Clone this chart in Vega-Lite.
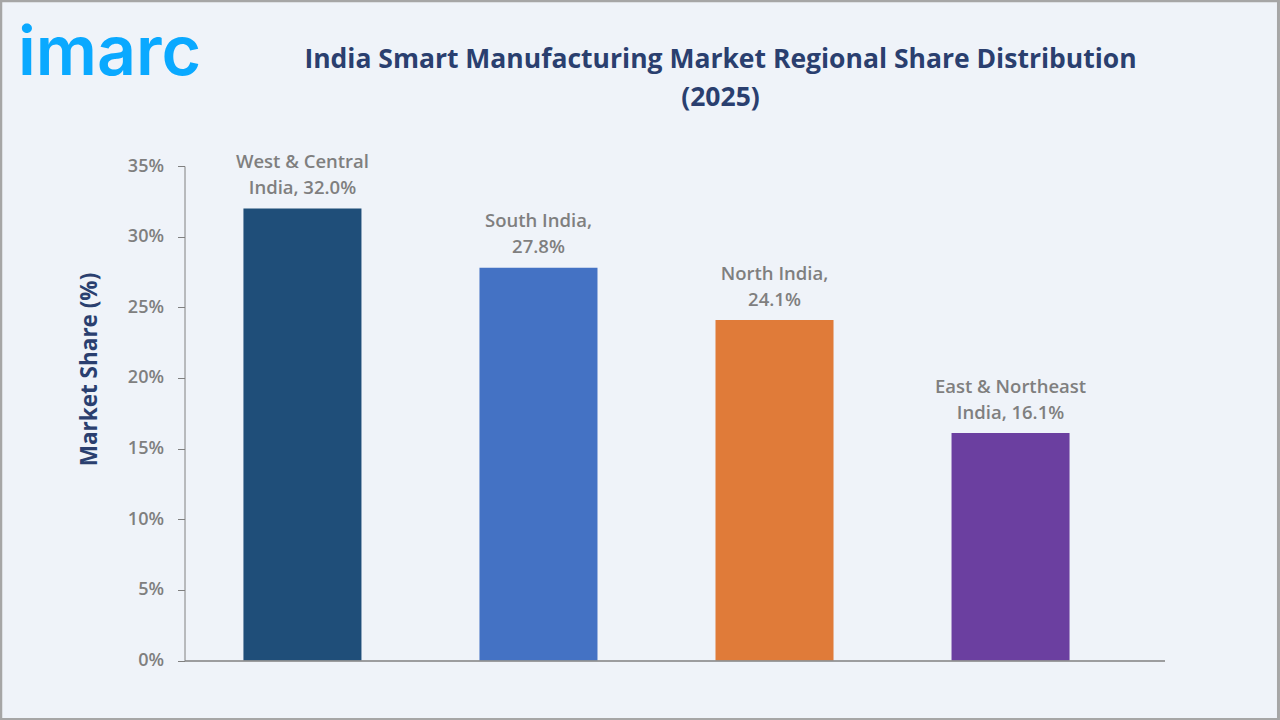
{
  "$schema": "https://vega.github.io/schema/vega-lite/v6.json",
  "description": "India Smart Manufacturing Market Regional Share Distribution (2025)",
  "width": 980,
  "height": 494.5,
  "autosize": "none",
  "padding": {"left": 184.5, "top": 166, "right": 115, "bottom": 59.5},
  "background": "#EFF3F9",
  "config": {"view": {"stroke": null}, "font": "Open Sans"},
  "title": {
    "text": ["India Smart Manufacturing Market Regional Share Distribution", "(2025)"],
    "anchor": "middle",
    "frame": "group",
    "dx": 46,
    "offset": -112,
    "font": "Open Sans",
    "fontSize": 26.5,
    "fontWeight": 700,
    "lineHeight": 38,
    "color": "#2A3F6F"
  },
  "layer": [
    {
      "data": {
        "values": [
          {"region": "West & Central", "share": 32.0, "label": "West & Central\nIndia, 32.0%"},
          {"region": "South", "share": 27.8, "label": "South India,\n27.8%"},
          {"region": "North", "share": 24.1, "label": "North India,\n24.1%"},
          {"region": "East & Northeast", "share": 16.1, "label": "East & Northeast\nIndia, 16.1%"}
        ]
      },
      "encoding": {
        "x": {
          "field": "region",
          "type": "nominal",
          "sort": null,
          "scale": {"paddingInner": 0.5, "paddingOuter": 0.326, "align": 0.383},
          "axis": {
            "title": null,
            "labels": false,
            "ticks": false,
            "domainColor": "#808080",
            "domainWidth": 1.5,
            "zindex": 1
          }
        },
        "y": {
          "field": "share",
          "type": "quantitative",
          "scale": {"domain": [0, 35], "nice": false},
          "axis": {
            "title": "Market Share (%)",
            "titleFont": "Open Sans",
            "titleFontSize": 22.5,
            "titleFontWeight": 700,
            "titleColor": "#2A3F6F",
            "titlePadding": 26,
            "titleY": 203,
            "values": [0, 5, 10, 15, 20, 25, 30, 35],
            "labelExpr": "datum.value + '%'",
            "labelFont": "Open Sans",
            "labelFontSize": 18,
            "labelFontWeight": 600,
            "labelColor": "#7F7F7F",
            "labelPadding": 14,
            "tickSize": 7,
            "tickColor": "#808080",
            "domainColor": "#808080",
            "grid": false,
            "zindex": 1
          }
        }
      },
      "layer": [
        {
          "mark": {"type": "bar"},
          "encoding": {
            "color": {
              "field": "region",
              "type": "nominal",
              "sort": null,
              "legend": null,
              "scale": {"range": ["#1F4E79", "#4472C4", "#E07B39", "#6B3FA0"]}
            }
          }
        },
        {
          "mark": {
            "type": "text",
            "baseline": "bottom",
            "dy": -36.5,
            "lineBreak": "\n",
            "lineHeight": 26,
            "font": "Open Sans",
            "fontSize": 18.5,
            "fontWeight": 600,
            "color": "#7F7F7F"
          },
          "encoding": {"text": {"field": "label", "type": "nominal"}}
        }
      ]
    },
    {
      "data": {"values": [{"logo": "imarc"}]},
      "mark": {
        "type": "text",
        "align": "left",
        "baseline": "alphabetic",
        "font": "Inter",
        "fontSize": 68,
        "fontWeight": 600,
        "color": "#0AA9FF"
      },
      "encoding": {
        "text": {"field": "logo", "type": "nominal"},
        "x": {"datum": -0.17, "type": "quantitative", "scale": {"domain": [0, 1]}, "axis": null},
        "y": {"datum": 41.45, "type": "quantitative"}
      }
    },
    {
      "data": {"values": [{"frame": "border"}]},
      "mark": {"type": "rect", "fillOpacity": 0, "stroke": "#A6A6A6", "strokeWidth": 3},
      "encoding": {
        "x": {"datum": -0.1875, "type": "quantitative", "scale": {"domain": [0, 1]}, "axis": null},
        "x2": {"datum": 1.1163},
        "y": {"datum": -4.17, "type": "quantitative"},
        "y2": {"datum": 46.7}
      }
    }
  ],
  "resolve": {"scale": {"x": "independent", "color": "independent"}}
}
